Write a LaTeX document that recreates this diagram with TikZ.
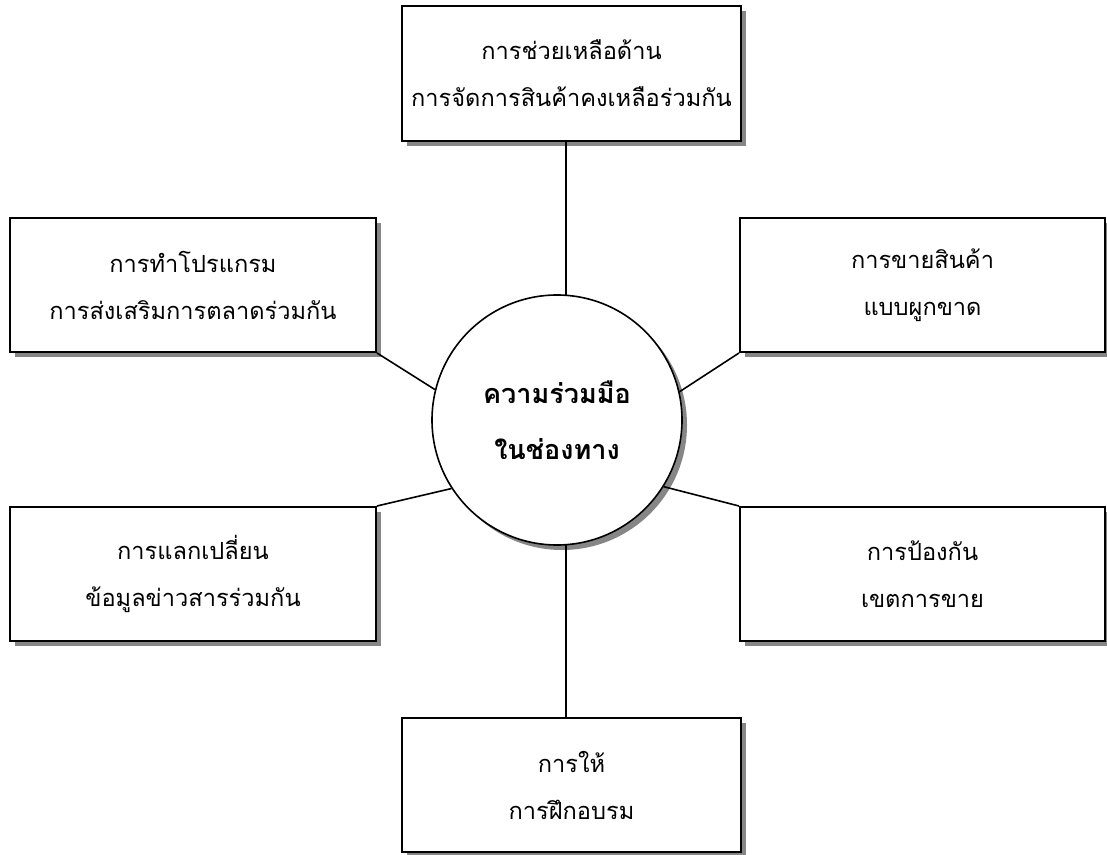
\documentclass[tikz,border=0pt]{standalone}
\usepackage{fontspec}
\newfontfamily\thaifont[Script=Thai]{Loma}
\usepackage{tikz}
\usetikzlibrary{shadows}

\tikzset{
  boxnode/.style={draw,line width=1pt,fill=white,align=center,
    inner sep=0pt,font=\thaifont\fontsize{11.8}{23.5}\selectfont,
    drop shadow={shadow xshift=2.5pt,shadow yshift=-2.5pt,fill=gray!95,opacity=1}},
  hubnode/.style={draw,circle,line width=0.8pt,fill=white,align=center,
    inner sep=0pt,minimum size=125pt,
    font=\thaifont\bfseries\fontsize{13.5}{28}\selectfont,
    drop shadow={shadow xshift=2.5pt,shadow yshift=-2.5pt,fill=gray!95,opacity=1}},
  link/.style={line width=0.8pt}
}

\begin{document}
\begin{tikzpicture}[x=0.5pt,y=-0.5pt]
    \useasboundingbox (0,0) rectangle (1107,855);
    \node[boxnode,minimum width=169.5pt,minimum height=67.5pt] (top) at (571.5,73.5)
      {การช่วยเหลือด้าน\\การจัดการสินค้าคงเหลือร่วมกัน};
    \node[boxnode,minimum width=183pt,minimum height=67pt] (ul) at (193,285)
      {การทำโปรแกรม\\การส่งเสริมการตลาดร่วมกัน};
    \node[boxnode,minimum width=182.5pt,minimum height=67pt] (ur) at (922.5,285)
      {การขายสินค้า\\แบบผูกขาด};
    \node[boxnode,minimum width=183pt,minimum height=67pt] (ll) at (193,574)
      {การแลกเปลี่ยน\\ข้อมูลข่าวสารร่วมกัน};
    \node[boxnode,minimum width=182.5pt,minimum height=67pt] (lr) at (922.5,574)
      {การป้องกัน\\เขตการขาย};
    \node[boxnode,minimum width=169.5pt,minimum height=67pt] (bot) at (571.5,785)
      {การให้\\การฝึกอบรม};
    \node[hubnode] (hub) at (557,420) {ความร่วมมือ\\ในช่องทาง};
    \draw[link] (hub.86 |- top.south) to (hub.86);
    \draw[link] (hub.274) to (hub.274 |- bot.north);
    \draw[link] (ul.south east) to (hub.166);
    \draw[link] (ur.south west) to (hub.13);
    \draw[link] (ll.north east) to (hub.213);
    \draw[link] (lr.north west) to (hub.328);
  \end{tikzpicture}
\end{document}
